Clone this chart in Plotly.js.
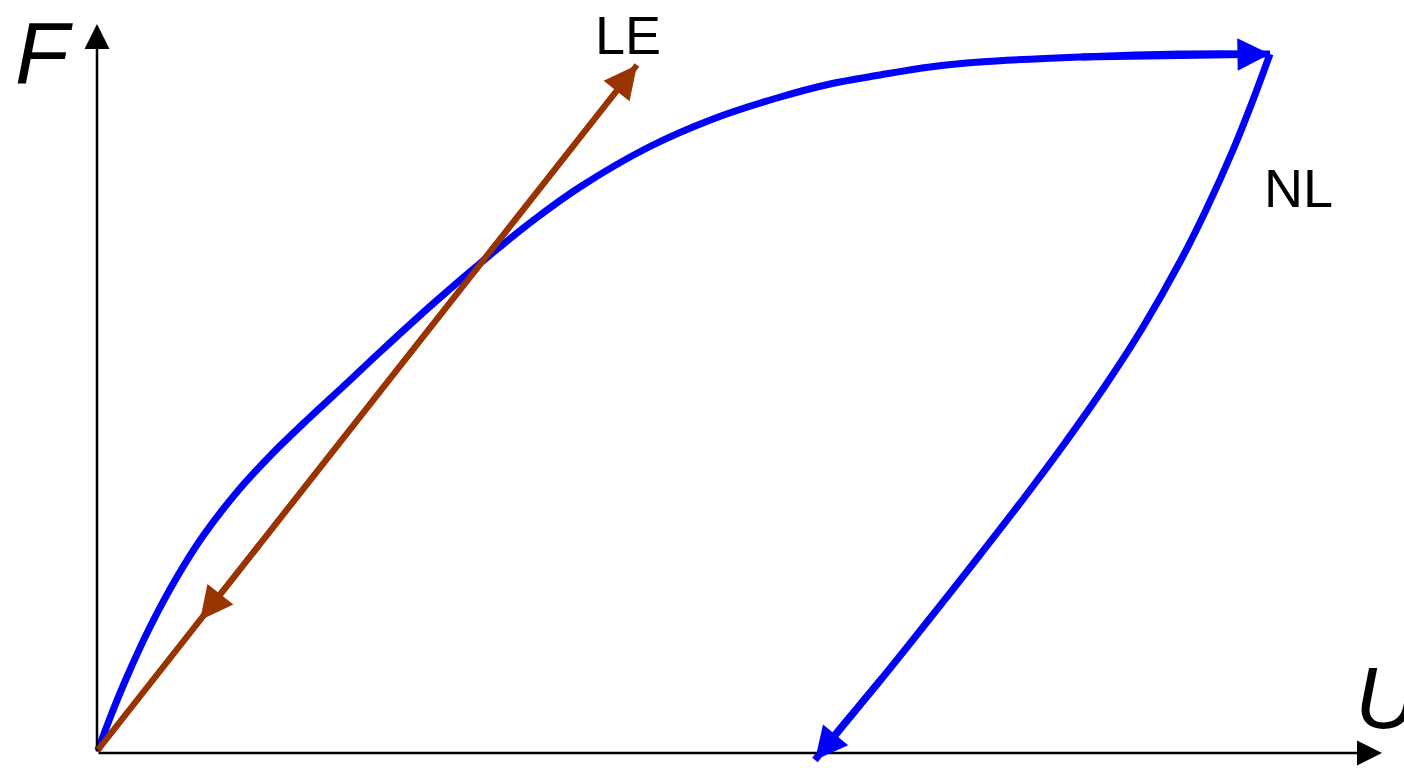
<!DOCTYPE html>
<html>
<head>
<meta charset="utf-8">
<script src="https://cdn.plot.ly/plotly-3.0.1.min.js"></script>
<style>
  html, body { margin: 0; padding: 0; background: #ffffff; }
  #chart { width: 1404px; height: 768px; }
</style>
</head>
<body>
<div id="chart"></div>
<script>
// Force–displacement sketch: non-linear (NL) loading/unloading loop
// against a linear-elastic (LE) path. Units are arbitrary.

// NL loading branch (displacement U, force F)
const nlLoadU = [1, 13, 29, 53, 80, 106, 140, 173, 210, 250, 283, 338, 393, 438, 483, 550, 616, 680, 733, 783, 833, 883, 983, 1083, 1173];
const nlLoadF = [3, 35, 74, 126, 176, 217, 261, 297, 333, 370, 401, 451, 498, 534, 566, 605, 634, 655, 669, 678, 686, 691, 696, 699, 699];

// NL unloading branch
const nlUnloadU = [1173, 1156, 1136, 1109, 1084, 1046, 1010, 965, 927, 879, 834, 786, 736, 718];
const nlUnloadF = [699, 653, 603, 543, 493, 426, 370, 306, 255, 193, 136, 76, 16, -7];

// LE path (straight line loading and unloading)
const leU = [0, 540];
const leF = [2, 688];
const leReturnU = [103]; // where the unloading arrow sits on the LE line

// Axis extents (arrow tips)
const axisUMax = 1285;
const axisFMax = 729;

// Labels
const labels = { F: 'F', U: 'U', LE: 'LE', NL: 'NL' };

const BLUE = '#0000ff';
const BROWN = '#993300';
const BLUE_W = 7;
const BROWN_W = 6;
const AXIS_W = 2.5;

function leAt(u) {
  const t = (u - leU[0]) / (leU[1] - leU[0]);
  return leF[0] + t * (leF[1] - leF[0]);
}

const traces = [
  {
    x: leU, y: leF, type: 'scatter', mode: 'lines',
    line: { color: BROWN, width: BROWN_W },
    hoverinfo: 'skip', showlegend: false
  },
  {
    x: nlLoadU, y: nlLoadF, type: 'scatter', mode: 'lines',
    line: { color: BLUE, width: BLUE_W, shape: 'spline', smoothing: 1, simplify: false },
    hoverinfo: 'skip', showlegend: false
  },
  {
    x: nlUnloadU, y: nlUnloadF, type: 'scatter', mode: 'lines',
    line: { color: BLUE, width: BLUE_W, shape: 'spline', smoothing: 1, simplify: false },
    hoverinfo: 'skip', showlegend: false
  }
];

function arrow(xTip, yTip, xTail, yTail, color, width, head, size) {
  return {
    x: xTip, y: yTip, ax: xTail, ay: yTail,
    xref: 'x', yref: 'y', axref: 'x', ayref: 'y',
    text: '', showarrow: true,
    arrowhead: head, arrowsize: size, arrowwidth: width, arrowcolor: color,
    standoff: 0
  };
}

const nL = nlLoadU.length;
const nU = nlUnloadU.length;
const retU = leReturnU[0];

const annotations = [
  // coordinate axes
  arrow(0, axisFMax, 0, 0, '#000000', AXIS_W, 2, 2),
  arrow(axisUMax, 0, 0, 0, '#000000', AXIS_W, 2, 2),
  // LE arrows
  arrow(leU[1], leF[1], leU[0], leF[0], BROWN, BROWN_W, 2, 1.1),
  arrow(retU, leAt(retU), retU + 60, leAt(retU + 60), BROWN, BROWN_W, 2, 1.1),
  // NL arrows
  arrow(nlLoadU[nL - 1], nlLoadF[nL - 1], nlLoadU[nL - 3], nlLoadF[nL - 3], BLUE, BLUE_W, 2, 0.93),
  arrow(nlUnloadU[nU - 1], nlUnloadF[nU - 1], nlUnloadU[nU - 3], nlUnloadF[nU - 3], BLUE, BLUE_W, 2, 0.93),
  // text labels
  { x: -53, y: 701, xref: 'x', yref: 'y', text: '<i>' + labels.F + '</i>', showarrow: false,
    xanchor: 'center', yanchor: 'middle',
    font: { family: 'Liberation Sans, Arial, sans-serif', size: 88, color: '#000000' } },
  { x: 1290, y: 56, xref: 'x', yref: 'y', text: '<i>' + labels.U + '</i>', showarrow: false,
    xanchor: 'center', yanchor: 'middle',
    font: { family: 'Liberation Sans, Arial, sans-serif', size: 88, color: '#000000' } },
  { x: 531, y: 718, xref: 'x', yref: 'y', text: labels.LE, showarrow: false,
    xanchor: 'center', yanchor: 'middle',
    font: { family: 'Liberation Sans, Arial, sans-serif', size: 54, color: '#000000' } },
  { x: 1201, y: 565, xref: 'x', yref: 'y', text: labels.NL, showarrow: false,
    xanchor: 'center', yanchor: 'middle',
    font: { family: 'Liberation Sans, Arial, sans-serif', size: 54, color: '#000000' } }
];

const layout = {
  width: 1404, height: 768,
  margin: { l: 0, r: 0, t: 0, b: 0, pad: 0 },
  paper_bgcolor: '#ffffff', plot_bgcolor: '#ffffff',
  showlegend: false,
  xaxis: { range: [-97, 1307], visible: false, fixedrange: true },
  yaxis: { range: [-15, 753], visible: false, fixedrange: true },
  annotations: annotations
};

Plotly.newPlot('chart', traces, layout, { staticPlot: true, displayModeBar: false });
</script>
</body>
</html>
